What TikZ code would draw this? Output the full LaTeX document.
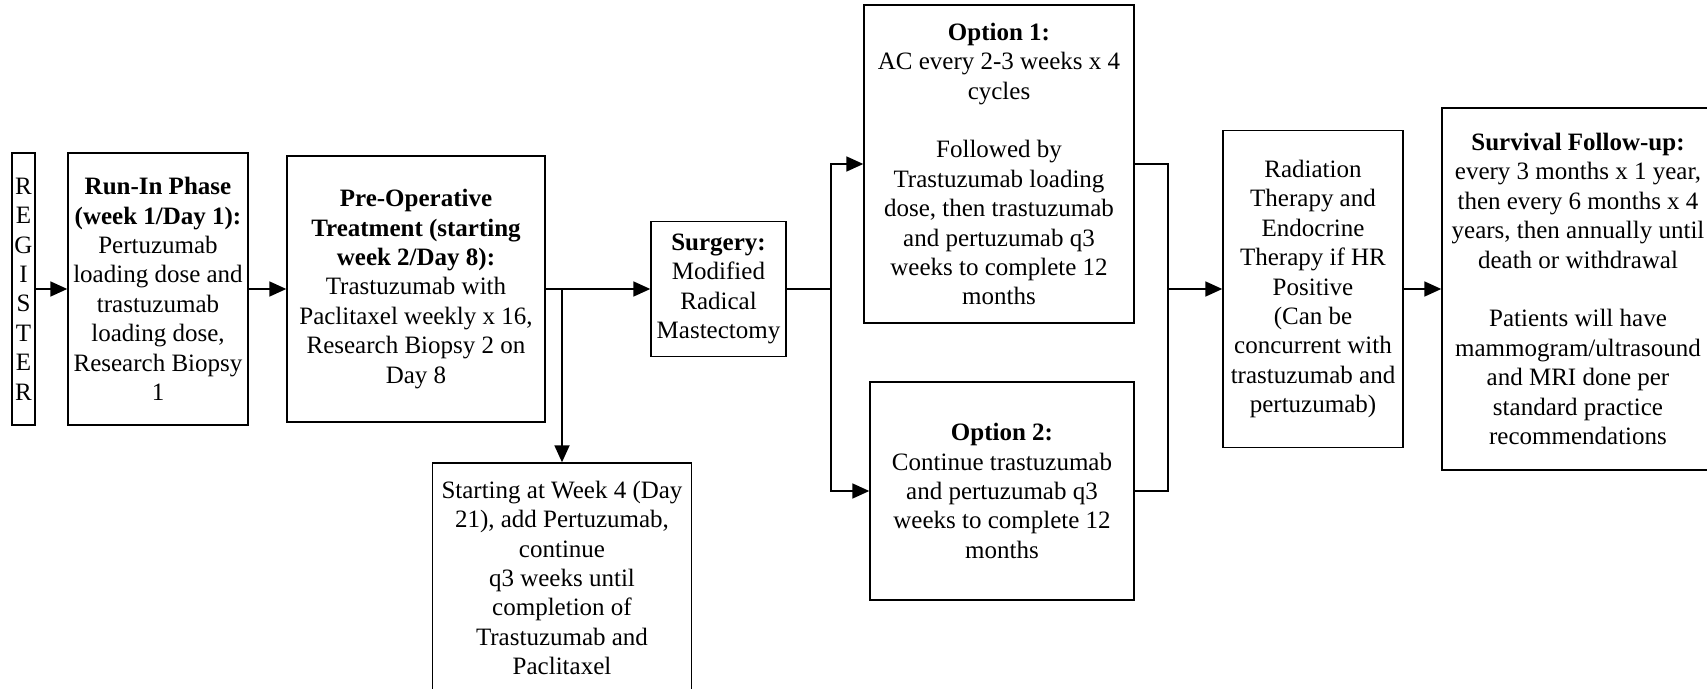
\documentclass[tikz,border=0pt]{standalone}
\usepackage{fontspec}
\setmainfont{Liberation Serif}
\usetikzlibrary{arrows.meta}
\newlength{\du}
\setlength{\du}{0.5pt}
\tikzset{
  blockbox/.style={draw=black, line width=0.7pt, align=center, inner sep=0pt,
    font=\fontsize{12.5}{14.7}\selectfont},
  flowline/.style={line width=0.9pt},
  flowarrow/.style={flowline, -{Triangle[length=8.5pt,width=7.5pt]}},
}
\begin{document}
\begin{tikzpicture}[yscale=-1]
\useasboundingbox (0\du,0\du) rectangle (1707\du,689\du);
\node[blockbox, minimum width=23\du, minimum height=272\du] (register) at (23.5\du,289\du) {R\\E\\G\\I\\S\\T\\E\\R};
\node[blockbox, minimum width=180\du, minimum height=272\du] (runin) at (158\du,289\du) {\textbf{Run-In Phase}\\\textbf{(week 1/Day 1):}\\Pertuzumab\\loading dose and\\trastuzumab\\loading dose,\\Research Biopsy\\1};
\node[blockbox, minimum width=258\du, minimum height=266\du] (preop) at (416\du,289\du) {\textbf{Pre-Operative}\\\textbf{Treatment (starting}\\\textbf{week 2/Day 8):}\\Trastuzumab with\\Paclitaxel weekly x 16,\\Research Biopsy 2 on\\Day 8};
\node[blockbox, minimum width=135\du, minimum height=135\du] (surgery) at (718.5\du,289\du) {\textbf{Surgery:}\\Modified\\Radical\\Mastectomy};
\node[blockbox, minimum width=259\du, minimum height=230\du] (pertuz) at (562\du,578\du) {Starting at Week 4 (Day\\21), add Pertuzumab,\\continue\\q3 weeks until\\completion of\\Trastuzumab and\\Paclitaxel};
\node[blockbox, minimum width=270\du, minimum height=318\du] (option1) at (999\du,164\du) {\textbf{Option 1:}\\AC every 2-3 weeks x 4\\cycles\\[14.7pt]Followed by\\Trastuzumab loading\\dose, then trastuzumab\\and pertuzumab q3\\weeks to complete 12\\months};
\node[blockbox, minimum width=264\du, minimum height=218\du] (option2) at (1002\du,491\du) {\textbf{Option 2:}\\Continue trastuzumab\\and pertuzumab q3\\weeks to complete 12\\months};
\node[blockbox, minimum width=180\du, minimum height=317\du] (radiation) at (1313\du,289\du) {Radiation\\Therapy and\\Endocrine\\Therapy if HR\\Positive\\(Can be\\concurrent with\\trastuzumab and\\pertuzumab)};
\node[blockbox, minimum width=272\du, minimum height=362\du] (survival) at (1578\du,289\du) {\textbf{Survival Follow-up:}\\every 3 months x 1 year,\\then every 6 months x 4\\years, then annually until\\death or withdrawal\\[14.7pt]Patients will have\\mammogram/ultrasound\\and MRI done per\\standard practice\\recommendations};
\coordinate (split) at (pertuz.north |- preop.east);
\coordinate (branch) at (831\du,289\du);
\coordinate (merge) at (1168\du,289\du);
\draw[flowarrow] (register) -- (runin);
\draw[flowarrow] (runin) -- (preop);
\draw[flowarrow] (preop.east) -- (surgery.west);
\draw[flowarrow] (split) -- (pertuz.north);
\draw[flowline] (surgery.east) -- (branch);
\draw[flowarrow] (branch) |- (option1.west);
\draw[flowarrow] (branch) |- (option2.west);
\draw[flowline] (option1.east) -| (merge);
\draw[flowline] (option2.east) -| (merge);
\draw[flowarrow] (merge) -- (radiation.west);
\draw[flowarrow] (radiation) -- (survival);
\end{tikzpicture}
\end{document}
